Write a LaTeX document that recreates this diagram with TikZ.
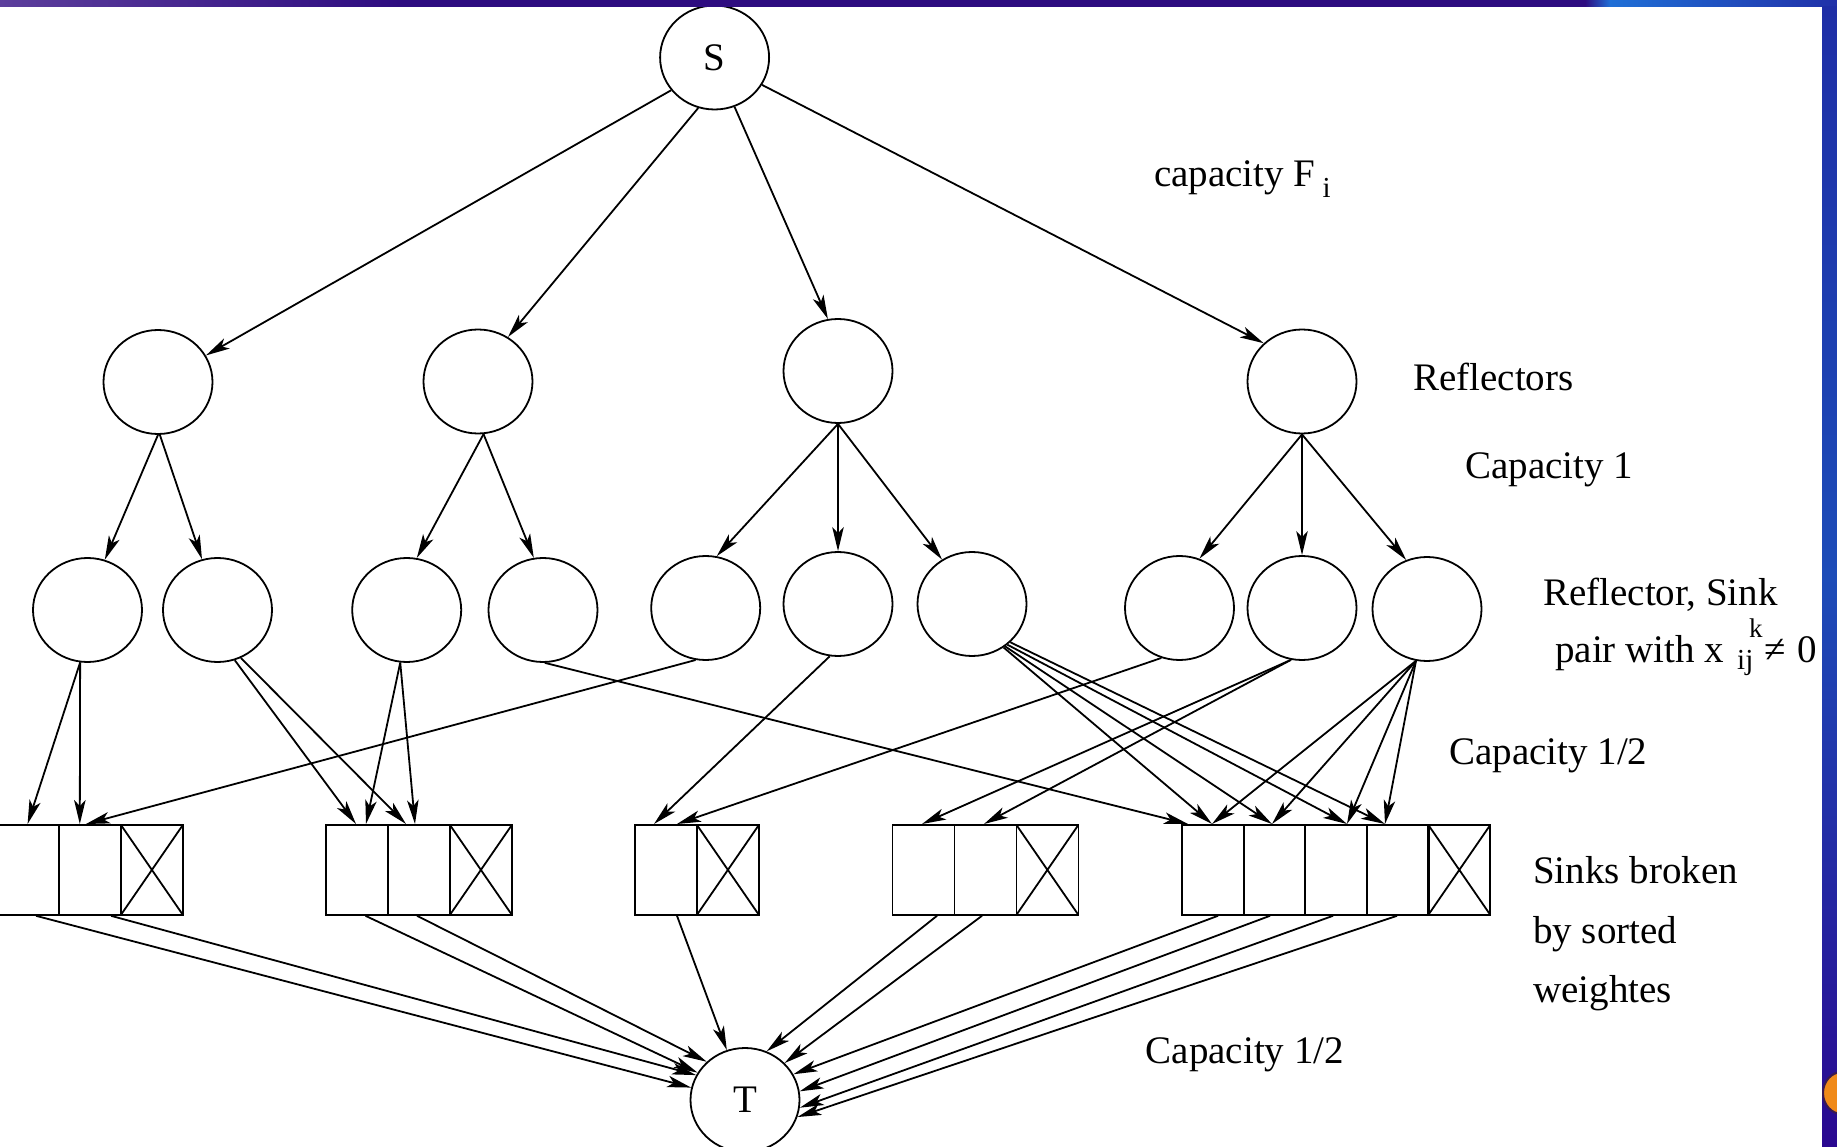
\documentclass[tikz,border=0pt]{standalone}
\usepackage{fontspec}
\setmainfont{Liberation Serif}
\usetikzlibrary{arrows.meta,shapes.geometric}

\definecolor{barpurpleA}{HTML}{5C3E9C}
\definecolor{barpurpleB}{HTML}{2E0C80}
\definecolor{barblueA}{HTML}{1F6FD6}
\definecolor{barblueB}{HTML}{2030A8}
\definecolor{stripTop}{HTML}{1E2EA6}
\definecolor{stripMid}{HTML}{1D4CB8}
\definecolor{stripBot}{HTML}{2A0890}
\definecolor{logoOrange}{HTML}{F08A1A}
\definecolor{logoEdge}{HTML}{3A1A50}

\newcommand{\lbfont}{\fontsize{39}{47}\selectfont}
\newcommand{\subfont}{\fontsize{29}{34}\selectfont}
\newcommand{\supfont}{\fontsize{27}{32}\selectfont}

\tikzset{
  vert/.style={draw, ellipse, line width=1.8pt, minimum width=109pt,
               minimum height=104pt, inner sep=0pt, font=\lbfont},
  cell/.style={draw, rectangle, line width=1.8pt, minimum width=62pt,
               minimum height=90pt, inner sep=0pt, anchor=north west},
  xcell/.style={cell, path picture={
      \draw[line width=1.8pt]
        (path picture bounding box.north west) -- (path picture bounding box.south east)
        (path picture bounding box.south west) -- (path picture bounding box.north east);}},
  flow/.style={line width=1.8pt, -{Stealth[length=24pt,width=11.5pt,inset=6pt]}},
  lbl/.style={font=\lbfont, anchor=base west, inner sep=0pt},
  sublbl/.style={font=\subfont, anchor=base west, inner sep=0pt},
  suplbl/.style={font=\supfont, anchor=base west, inner sep=0pt},
}

\begin{document}
\begin{tikzpicture}[x=1pt,y=-1pt]
\useasboundingbox (0,0) rectangle (1837,1147);
\fill[white] (0,0) rectangle (1837,1147);

% source, reflectors, reflector/sink pairs, sink
\node[vert] (S) at (714.6,57.5) {S};
\node[vert] (R1) at (158,382) {};
\node[vert] (R2) at (478,381.5) {};
\node[vert] (R3) at (838,371) {};
\node[vert] (R4) at (1302,381.5) {};

\node[vert] (A1) at (87.5,610) {};
\node[vert] (A2) at (217.5,610) {};
\node[vert] (A3) at (406.7,610) {};
\node[vert] (A4) at (543,610) {};
\node[vert] (A5) at (705.7,608) {};
\node[vert] (A6) at (838,604) {};
\node[vert] (A7) at (972,604) {};
\node[vert] (A8) at (1179.5,608) {};
\node[vert] (A9) at (1302,608) {};
\node[vert] (A10) at (1427,609) {};

\node[vert] (T) at (745,1100) {T};

% sinks split into cells by sorted weights
\node[cell]  (c11) at (-4,824) {};
\node[cell]  (c12) at (58,824) {};
\node[xcell] (c1x) at (120,824) {};

\node[cell]  (c21) at (325,824) {};
\node[cell]  (c22) at (387,824) {};
\node[xcell] (c2x) at (449,824) {};

\node[cell]  (c31) at (634,824) {};
\node[xcell] (c3x) at (696,824) {};

\node[cell]  (c41) at (891.5,824) {};
\node[cell]  (c42) at (953.5,824) {};
\node[xcell] (c4x) at (1015.5,824) {};

\begin{scope}[every node/.append style={minimum width=61.6pt}]
\node[cell]  (c51) at (1181,824) {};
\node[cell]  (c52) at (1242.6,824) {};
\node[cell]  (c53) at (1304.2,824) {};
\node[cell]  (c54) at (1365.8,824) {};
\node[xcell] (c5x) at (1427.4,824) {};
\end{scope}

% source to reflectors
\draw[flow] (S.217) -- (R1.29);
\draw[flow] (S.252) -- (R2.56);
\draw[flow] (S.292) -- (R3.101);
\draw[flow] (S.330) -- (R4.135);

% reflectors to pairs
\draw[flow] (R1.south) -- (A1.71);
\draw[flow] (R1.272) -- (A2.107);
\draw[flow] (R2.276) -- (A3.79);
\draw[flow] (R2.276) -- (A4.100);
\draw[flow] (R3.south) -- (A5.78);
\draw[flow] (R3.south) -- (A6.north);
\draw[flow] (R3.south) -- (A7.124);
\draw[flow] (R4.south) -- (A8.68);
\draw[flow] (R4.south) -- (A9.north);
\draw[flow] (R4.south) -- (A10.113);

% pairs to sink cells
\draw[flow] (A1.262) -- ([xshift=31.6pt]c11.north west);
\draw[flow] (A1.262) -- ([xshift=21.8pt]c12.north west);
\draw[flow] (A5.259) -- ([xshift=28pt]c12.north west);
\draw[flow] (A2.289) -- ([xshift=31pt]c21.north west);
\draw[flow] (A2.296) -- ([xshift=19pt]c22.north west);
\draw[flow] (A3.263) -- ([xshift=41pt]c21.north west);
\draw[flow] (A3.263) -- ([xshift=28pt]c22.north west);
\draw[flow] (A4.272) -- ([xshift=7pt]c51.north west);
\draw[flow] (A6.261) -- ([xshift=20pt]c31.north west);
\draw[flow] (A8.250) -- ([xshift=43pt]c31.north west);
\draw[flow] (A9.258) -- ([xshift=30.5pt]c41.north west);
\draw[flow] (A9.258) -- ([xshift=30.5pt]c42.north west);
\draw[flow] (A7.306) -- ([xshift=31pt]c51.north west);
\draw[flow] (A7.308) -- ([xshift=29.4pt]c52.north west);
\draw[flow] (A7.311) -- ([xshift=42.8pt]c53.north west);
\draw[flow] (A7.315) -- ([xshift=19.2pt]c54.north west);
\draw[flow] (A10.258) -- ([xshift=31pt]c51.north west);
\draw[flow] (A10.258) -- ([xshift=29.4pt]c52.north west);
\draw[flow] (A10.258) -- ([xshift=42.8pt]c53.north west);
\draw[flow] (A10.258) -- ([xshift=19.2pt]c54.north west);

% sink cells to T
\draw[flow] ([xshift=40pt]c11.south west) -- (T.167);
\draw[flow] ([xshift=53pt]c12.south west) -- (T.153);
\draw[flow] ([xshift=40.5pt]c21.south west) -- (T.150);
\draw[flow] ([xshift=30pt]c22.south west) -- (T.135);
\draw[flow] ([xshift=43pt]c31.south west) -- (T.110);
\draw[flow] ([xshift=45.5pt]c41.south west) -- (T.66);
\draw[flow] ([xshift=28.5pt]c42.south west) -- (T.43);
\draw[flow] ([xshift=37pt]c51.south west) -- (T.28);
\draw[flow] ([xshift=27.4pt]c52.south west) -- (T.9);
\draw[flow] ([xshift=28.8pt]c53.south west) -- (T.-8);
\draw[flow] ([xshift=31.2pt]c54.south west) -- (T.-18);

% labels
\node[lbl] (capF) at (1154,187) {capacity F\hspace{7pt}\raisebox{-11pt}{\subfont i}};
\node[lbl] (refl) at (1413,391) {Reflectors};
\node[lbl] (cap1) at (1465,478) {Capacity 1};
\node[lbl] (rspA) at (1543,605) {Reflector, Sink};
\node[lbl] (rspB) at (1555,662) {pair with x};
\node[suplbl] (rspK) at (1749,637) {k};
\node[sublbl] (rspIJ) at (1737,669) {ij};
\node[lbl] (rspNe) at (1764,662) {≠};
\node[lbl] (rspZero) at (1797,662) {0};
\node[lbl] (caphA) at (1449,764) {Capacity 1/2};
\node[lbl] (sinkA) at (1533,883) {Sinks broken};
\node[lbl] (sinkB) at (1533,943) {by sorted};
\node[lbl] (sinkC) at (1533,1002) {weightes};
\node[lbl] (caphB) at (1145.5,1063) {Capacity 1/2};

% slide frame: top bar and right strip
\shade[left color=barpurpleA, right color=barpurpleB] (0,0) rectangle (400,7);
\fill[barpurpleB] (400,0) rectangle (1585,7);
\shade[left color=barpurpleB, right color=barblueA] (1585,0) rectangle (1610,7);
\shade[left color=barblueA, right color=barblueB] (1610,0) rectangle (1837,7);
\shade[top color=stripTop, bottom color=stripBot, middle color=stripMid] (1822,7) rectangle (1837,1147);
\begin{scope}
  \clip (1822,7) rectangle (1837,1147);
  \fill[logoOrange, draw=logoEdge, line width=2pt] (1842,1093) ellipse (19 and 21);
\end{scope}
\end{tikzpicture}
\end{document}
